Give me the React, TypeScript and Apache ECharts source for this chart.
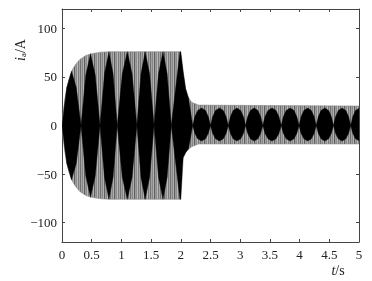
import React, { useEffect, useRef } from "react";
import * as echarts from "echarts";

// x tick labels / y tick values
const xTicks = [0, 0.5, 1, 1.5, 2, 2.5, 3, 3.5, 4, 4.5, 5];
const yTicks = [-100, -50, 0, 50, 100];

// outer envelope of the current (gray band)
const envT = [0, 0.02, 0.05, 0.08, 0.12, 0.17, 0.23, 0.3, 0.4, 0.5, 0.65, 0.8, 1.0, 1.99, 2.01, 2.04, 2.08, 2.12, 2.18, 2.3, 5.0];
const envUp = [0, 14, 28, 38, 48, 57, 63, 68, 72, 74, 75.5, 76, 76, 76, 68, 55, 38, 30, 24, 21, 20];
const envLo = [0, -14, -28, -38, -48, -57, -63, -68, -72, -74, -75.5, -76, -76, -76, -40, -33, -28, -25, -22, -19, -19];

// section 1 (0-2 s): black beat lobes
const s1Start = [0, 0.32, 0.64, 0.93, 1.26, 1.55];
const s1Tip = [0.16, 0.48, 0.79, 1.1, 1.4, 1.7];
const s1End = [0.32, 0.64, 0.93, 1.26, 1.55, 1.84];
const s1Amp = [56, 74, 76, 76, 76, 76];

// transient after the step at 2 s
const trT = [1.84, 1.985, 2.0, 2.04, 2.08, 2.13, 2.2];
const trUp = [0, 76, 76, 55, 38, 28, 0];
const trLo = [0, -76, -76, -33, -28, -24, 0];

// section 2 (2.2-5 s): black beat lobes
const s2Start = [2.2, 2.5, 2.8, 3.09, 3.38, 3.69, 3.99, 4.28, 4.57, 4.86];
const s2End = [2.5, 2.8, 3.09, 3.38, 3.69, 3.99, 4.28, 4.57, 4.86, 5.15];
const s2Up = [18, 18, 18, 18, 18, 18, 18, 18, 18, 18];
const s2Lo = [-16, -16, -16, -16, -16, -16, -16, -16, -16, -16];

const FONT = "'Liberation Serif', 'DejaVu Serif', serif";
const AXIS = "#444";

// lobe outline profiles (fraction of width -> fraction of height)
const s1Q = 0.7;
const s2F = [0, 0.12, 0.28, 0.5, 0.72, 0.88, 1];
const s2H = [0, 0.5, 0.86, 1, 0.86, 0.5, 0];

const fmtX = (v: number) => String(v);
const fmtY = (v: number) => (v < 0 ? "\u2212" + Math.abs(v) : String(v));

function makeStripes(): any {
  const c = document.createElement("canvas");
  const cols = ["#707070", "#a2a2a2", "#868686", "#b0b0b0", "#5e5e5e", "#9a9a9a", "#8c8c8c", "#b8b8b8", "#7c7c7c", "#a6a6a6"];
  c.width = cols.length;
  c.height = 4;
  const ctx = c.getContext("2d")!;
  cols.forEach((col, i) => {
    ctx.fillStyle = col;
    ctx.fillRect(i, 0, 1, 4);
  });
  return { image: c, repeat: "repeat" };
}

export default function App() {
  const ref = useRef<HTMLDivElement>(null);
  useEffect(() => {
    const chart = echarts.init(ref.current!, null, { renderer: "svg" });
    const stripes = makeStripes();
    const axisCommon = (pos: string, labels: boolean, isX: boolean) => ({
      type: "value",
      position: pos,
      axisLine: { show: true, onZero: false, lineStyle: { color: AXIS, width: 1 } },
      axisTick: isX
        ? { show: true, inside: true, length: 3, lineStyle: { color: AXIS } }
        : { show: true, inside: true, length: 3, customValues: yTicks, lineStyle: { color: AXIS } },
      axisLabel: labels
        ? isX
          ? { formatter: fmtX, margin: 6, fontFamily: FONT, fontSize: 13, color: "#222", customValues: xTicks }
          : { customValues: yTicks, formatter: fmtY, margin: 5, fontFamily: FONT, fontSize: 13, color: "#222" }
        : { show: false },
      splitLine: { show: false },
    });
    const blackStyle = { fill: "#000", stroke: "#000", lineWidth: 0.4 };
    const option: any = {
      animation: false,
      grid: { left: 62, right: 13, top: 9, bottom: 39, show: false },
      xAxis: [
        { ...axisCommon("bottom", true, true), min: 0, max: 5, interval: 0.5 },
        { ...axisCommon("top", false, true), min: 0, max: 5, interval: 0.5 },
      ],
      yAxis: [
        { ...axisCommon("left", true, false), min: -120, max: 120 },
        { ...axisCommon("right", false, false), min: -120, max: 120 },
      ],
      series: [
        {
          type: "custom", name: "envelope", clip: true, z: 1,
          data: envT.map((t, i) => [t, envUp[i], envLo[i]]),
          encode: { x: 0, y: [1, 2] },
          renderItem: (params: any, api: any) => {
            if (params.dataIndex !== 0) return null;
            const pts: number[][] = [];
            envT.forEach((t, i) => pts.push(api.coord([t, envUp[i]])));
            for (let i = envT.length - 1; i >= 1; i--) pts.push(api.coord([envT[i], envLo[i]]));
            return { type: "polygon", shape: { points: pts }, style: { fill: stripes, stroke: "#8a8a8a", lineWidth: 0.6 } };
          },
        },
        {
          type: "custom", name: "transient", clip: true, z: 2,
          data: trT.map((t, i) => [t, trUp[i], trLo[i]]),
          encode: { x: 0, y: [1, 2] },
          renderItem: (params: any, api: any) => {
            if (params.dataIndex !== 0) return null;
            const pts: number[][] = [];
            trT.forEach((t, i) => pts.push(api.coord([t, trUp[i]])));
            for (let i = trT.length - 2; i >= 1; i--) pts.push(api.coord([trT[i], trLo[i]]));
            return { type: "polygon", shape: { points: pts }, style: blackStyle };
          },
        },
        {
          type: "custom", name: "lobes1", clip: true, z: 3,
          data: s1Start.map((s, i) => [s, s1End[i], s1Amp[i], -s1Amp[i], s1Tip[i]]),
          encode: { x: [0, 1], y: [2, 3] },
          renderItem: (params: any, api: any) => {
            const t0 = api.value(0), t1 = api.value(1), a = api.value(2), tp = api.value(4);
            const lm = t0 + (tp - t0) * 0.5;
            const rm = tp + (t1 - tp) * 0.5;
            const pts = [
              api.coord([t0, 0]), api.coord([lm, a * s1Q]), api.coord([tp, a]),
              api.coord([rm, a * s1Q]), api.coord([t1, 0]),
              api.coord([rm, -a * s1Q]), api.coord([tp, -a]), api.coord([lm, -a * s1Q]),
            ];
            return { type: "polygon", shape: { points: pts }, style: blackStyle };
          },
        },
        {
          type: "custom", name: "lobes2", clip: true, z: 3,
          data: s2Start.map((s, i) => [s, s2End[i], s2Up[i], s2Lo[i]]),
          encode: { x: [0, 1], y: [2, 3] },
          renderItem: (params: any, api: any) => {
            const t0 = api.value(0), t1 = api.value(1), u = api.value(2), l = api.value(3);
            const pts: number[][] = [];
            s2F.forEach((f, k) => pts.push(api.coord([t0 + (t1 - t0) * f, u * s2H[k]])));
            for (let k = s2F.length - 2; k >= 1; k--) pts.push(api.coord([t0 + (t1 - t0) * s2F[k], l * s2H[k]]));
            return { type: "polygon", shape: { points: pts }, style: blackStyle };
          },
        },
      ],
      graphic: [
        {
          type: "text", x: 20, y: 50, rotation: Math.PI / 2,
          style: {
            text: "{i|i}{s|a}{n|/A}",
            align: "center", verticalAlign: "middle",
            rich: {
              i: { fontFamily: FONT, fontStyle: "italic", fontSize: 14, fill: "#222" },
              s: { fontFamily: FONT, fontSize: 9, fill: "#222", padding: [6, 0, 0, 0] },
              n: { fontFamily: FONT, fontSize: 14, fill: "#222" },
            },
          },
        },
        {
          type: "text", x: 338, y: 270,
          style: {
            text: "{i|t}{n|/s}",
            align: "center", verticalAlign: "middle",
            rich: {
              i: { fontFamily: FONT, fontStyle: "italic", fontSize: 14, fill: "#222" },
              n: { fontFamily: FONT, fontSize: 14, fill: "#222" },
            },
          },
        },
      ],
    };
    chart.setOption(option);
    return () => chart.dispose();
  }, []);
  return <div ref={ref} style={{ position: "fixed", left: 0, top: 0, width: 372, height: 281 }} />;
}
